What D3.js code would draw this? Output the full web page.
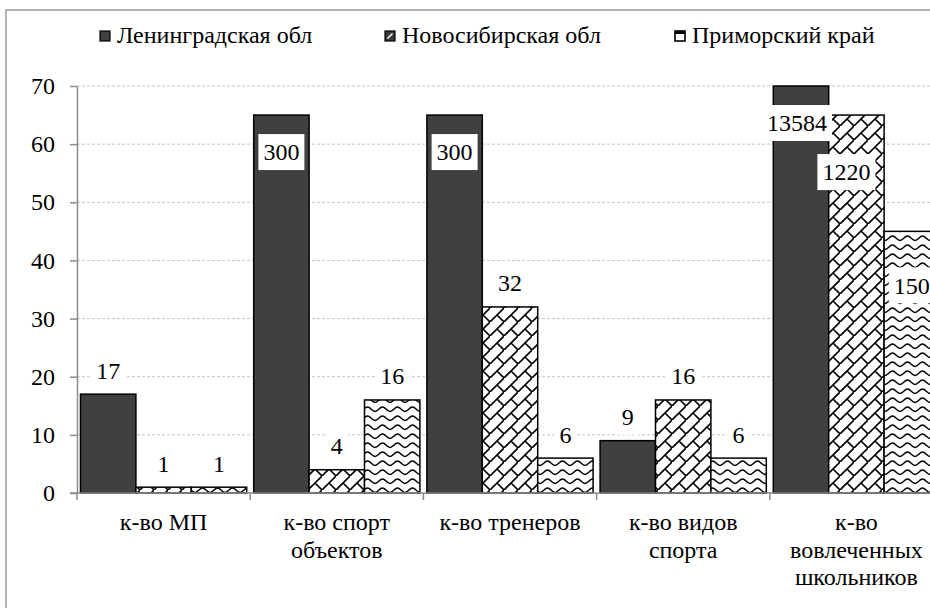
<!DOCTYPE html>
<html><head><meta charset="utf-8">
<script src="https://cdn.jsdelivr.net/npm/d3@7"></script>
<style>html,body{margin:0;padding:0;background:#fff;overflow:hidden}</style>
</head><body><svg id="c" width="930" height="608"></svg>
<script>
// ---- data ----
const categories = ["к-во МП", "к-во спорт|объектов", "к-во тренеров", "к-во видов|спорта", "к-во|вовлеченных|школьников"];
const seriesNames = ["Ленинградская обл", "Новосибирская обл", "Приморский край"];
const lenValues = [17, 65, 65, 9, 70];
const novValues = [1, 4, 32, 16, 65];
const priValues = [1, 16, 6, 6, 45];
const lenLabels = ["17", "300", "300", "9", "13584"];
const novLabels = ["1", "4", "32", "16", "1220"];
const priLabels = ["1", "16", "6", "6", "150"];
const yTicks = [0, 10, 20, 30, 40, 50, 60, 70];

// ---- setup ----
const FONT = '"Liberation Serif", "Times New Roman", serif';
const FS = "24px";
const svg = d3.select("#c");
const defs = svg.append("defs");
const txt = sel => sel.style("font-family", FONT).style("font-size", FS).attr("fill", "#000");

// brick diagonal pattern
const pb = defs.append("pattern").attr("id", "brick").attr("patternUnits", "userSpaceOnUse")
  .attr("width", 14).attr("height", 14);
pb.append("rect").attr("width", 14).attr("height", 14).attr("fill", "#fff");
pb.append("path").attr("d", "M-1,15 L15,-1 M7,7 L14,14 M-7,7 L0,14 M7,-7 L14,0")
  .attr("stroke", "#000").attr("stroke-width", 1.6).attr("fill", "none");
// wave pattern
const pw = defs.append("pattern").attr("id", "wave").attr("patternUnits", "userSpaceOnUse")
  .attr("width", 15).attr("height", 9);
pw.append("rect").attr("width", 15).attr("height", 9).attr("fill", "#fff");
pw.append("path").attr("d", "M0,6.5 C3,6.5 4.5,2 7.5,2 C10.5,2 12,6.5 15,6.5")
  .attr("stroke", "#000").attr("stroke-width", 1.5).attr("fill", "none");

const fills = ["#404040", "url(#brick)", "url(#wave)"];

// frame
svg.append("path").attr("d", "M6,608 L6,10 L930,10").attr("fill", "none")
  .attr("stroke", "#9a9a9a").attr("stroke-width", 1.5);

const x0 = d3.scaleBand().domain(d3.range(categories.length)).range([77, 943]).paddingInner(0).paddingOuter(0);
const x1 = d3.scaleBand().domain(d3.range(3)).range([3.5, x0.bandwidth() - 3.5]);
const y = d3.scaleLinear().domain([0, 70]).range([493, 86]);

// gridlines
svg.append("g").selectAll("line").data(yTicks.filter(d => d > 0)).join("line")
  .attr("x1", 77).attr("x2", 930).attr("y1", d => y(d)).attr("y2", d => y(d))
  .attr("stroke", "#c4c4c4").attr("stroke-width", 1).attr("stroke-dasharray", "3,2");

// bars
const seriesVals = [lenValues, novValues, priValues];
const seriesLbls = [lenLabels, novLabels, priLabels];
const gBars = svg.append("g");
seriesVals.forEach((vals, s) => {
  gBars.selectAll(null).data(vals).join("rect")
    .attr("x", (d, i) => x0(i) + x1(s))
    .attr("y", d => y(d))
    .attr("width", x1.bandwidth())
    .attr("height", d => y(0) - y(d))
    .attr("fill", fills[s]).attr("stroke", "#000").attr("stroke-width", 1.5);
});

// axes
const yAxis = svg.append("g").attr("transform", "translate(77,0)")
  .call(d3.axisLeft(y).tickValues(yTicks).tickSize(7).tickSizeOuter(0).tickPadding(15));
yAxis.select(".domain").attr("stroke", "#8c8c8c").attr("stroke-width", 1.5);
yAxis.selectAll(".tick line").attr("stroke", "#8c8c8c").attr("stroke-width", 1.5);
yAxis.selectAll("text").call(txt);

const xAxis = svg.append("g");
xAxis.append("line").attr("x1", 70).attr("x2", 930).attr("y1", y(0)).attr("y2", y(0))
  .attr("stroke", "#8c8c8c").attr("stroke-width", 1.5);
xAxis.selectAll("line.tk").data(d3.range(categories.length + 1)).join("line").attr("class", "tk")
  .attr("x1", i => 77 + i * x0.bandwidth()).attr("x2", i => 77 + i * x0.bandwidth())
  .attr("y1", y(0)).attr("y2", y(0) + 7)
  .attr("stroke", "#8c8c8c").attr("stroke-width", 1.5);
categories.forEach((c, i) => {
  const cx = x0(i) + x0.bandwidth() / 2;
  const t = xAxis.append("text").attr("x", cx).attr("y", 530).attr("text-anchor", "middle").call(txt);
  c.split("|").forEach((ln, k) => t.append("tspan").attr("x", cx).attr("dy", k ? 27.5 : 0).text(ln));
});

// data labels
const nudge = { "0-4": [-4, 0], "1-4": [-10, 20], "2-4": [0, 17] };
const gL = svg.append("g");
seriesVals.forEach((vals, s) => {
  vals.forEach((v, i) => {
    const n = nudge[s + "-" + i] || [0, 0];
    const cx = x0(i) + x1(s) + x1.bandwidth() / 2 + n[0];
    const cy = (v >= 40 ? y(v) + 37 : y(v) - 24) + n[1];
    const g = gL.append("g");
    const r = g.append("rect").attr("fill", "#fff");
    const t = g.append("text").attr("x", cx).attr("y", cy).attr("dy", "0.35em")
      .attr("text-anchor", "middle").call(txt).text(seriesLbls[s][i]);
    const bb = t.node().getBBox();
    r.attr("x", bb.x - 5).attr("y", cy - 18).attr("width", bb.width + 10).attr("height", 36);
  });
});

// legend
const legX = [100, 385, 675];
const lg = svg.append("g");
seriesNames.forEach((nm, s) => {
  const gx = legX[s];
  if (s === 0) {
    lg.append("rect").attr("x", gx).attr("y", 31).attr("width", 10).attr("height", 10)
      .attr("fill", "#404040").attr("stroke", "#000").attr("stroke-width", 1.2);
  } else if (s === 1) {
    lg.append("rect").attr("x", gx).attr("y", 31).attr("width", 10).attr("height", 10)
      .attr("fill", "#3a3a3a").attr("stroke", "#000").attr("stroke-width", 1.2);
    lg.append("path").attr("d", `M${gx + 2.5},38.5 L${gx + 7.5},33.5`).attr("stroke", "#fff").attr("stroke-width", 1.5);
  } else {
    lg.append("rect").attr("x", gx).attr("y", 31).attr("width", 10).attr("height", 10)
      .attr("fill", "#fff").attr("stroke", "#000").attr("stroke-width", 1.6);
    lg.append("rect").attr("x", gx).attr("y", 31).attr("width", 10).attr("height", 3).attr("fill", "#000");
  }
  lg.append("text").attr("x", gx + 17).attr("y", 43).call(txt).text(nm);
});
</script>
</body></html>
